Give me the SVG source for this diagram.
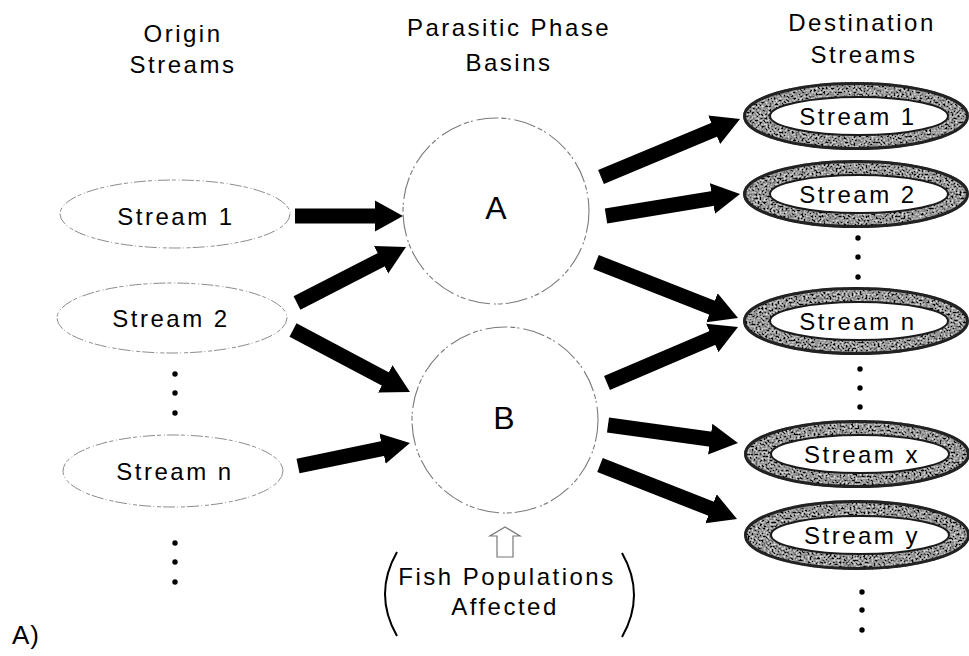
<svg xmlns="http://www.w3.org/2000/svg" width="969" height="656" viewBox="0 0 969 656">
  <style>
    .hdr { font-family: "Liberation Sans", Arial, sans-serif; font-size: 24px; letter-spacing: 2.5px; text-anchor: middle; fill: #000; }
    .lbl { font-family: "Liberation Sans", Arial, sans-serif; font-size: 24px; letter-spacing: 2.5px; text-anchor: middle; fill: #000; }
    .big { font-family: "Liberation Sans", Arial, sans-serif; font-size: 32px; text-anchor: middle; fill: #000; }
    .origin { fill: #fff; stroke: #8c8c8c; stroke-width: 1; stroke-dasharray: 12 2 4 3 1 2; }
    .basin { fill: #fff; stroke: #7a7a7a; stroke-width: 1.1; stroke-dasharray: 22 3 5 2 2 4; }
    .ring { fill: #000; filter: url(#grain); }
    .rim { fill: none; stroke: #222; stroke-width: 3; }
    .hole { fill: #fff; stroke: #1a1a1a; stroke-width: 2; }
    .arrow { stroke: #000; stroke-width: 15; fill: none; stroke-linecap: butt; }
    .dot { fill: #000; }
    .paren { fill: none; stroke: #000; stroke-width: 2; }
  </style>
  <defs>
    <marker id="head" markerUnits="userSpaceOnUse" markerWidth="30" markerHeight="34" viewBox="0 -16 30 32" refX="1" refY="0" orient="auto">
      <path d="M0,-15.5 L28,0 L0,15.5 Z" fill="#000"/>
    </marker>
    <!-- speckled grey fill for the destination rings -->
    <filter id="grain" x="0" y="0" width="1" height="1">
      <feTurbulence type="fractalNoise" baseFrequency="0.5" numOctaves="3" seed="7" result="noise"/>
      <feColorMatrix in="noise" type="matrix" values="1.6 0 0 0 -0.5  1.6 0 0 0 -0.5  1.6 0 0 0 -0.5  0 0 0 0 1" result="gray"/>
      <feComposite in="gray" in2="SourceGraphic" operator="in"/>
    </filter>
  </defs>

  <rect x="0" y="0" width="969" height="656" fill="#fff"/>

  <!-- column headings -->
  <g id="headings">
    <text class="hdr" x="183" y="42">Origin</text>
    <text class="hdr" x="183" y="73">Streams</text>
    <text class="hdr" x="509" y="36">Parasitic Phase</text>
    <text class="hdr" x="509" y="71">Basins</text>
    <text class="hdr" x="862" y="31">Destination</text>
    <text class="hdr" x="864" y="63">Streams</text>
  </g>

  <!-- connectors -->
  <g id="connectors">
    <line class="arrow" x1="295" y1="216" x2="376" y2="216" marker-end="url(#head)"/>
    <line class="arrow" x1="297" y1="303" x2="382" y2="259.3" marker-end="url(#head)"/>
    <line class="arrow" x1="293" y1="330" x2="386.1" y2="379.4" marker-end="url(#head)"/>
    <line class="arrow" x1="298" y1="466" x2="383.5" y2="448.4" marker-end="url(#head)"/>
    <line class="arrow" x1="601" y1="177" x2="715.1" y2="129.4" marker-end="url(#head)"/>
    <line class="arrow" x1="606" y1="216" x2="713.4" y2="198.4" marker-end="url(#head)"/>
    <line class="arrow" x1="596" y1="262" x2="712.9" y2="308.1" marker-end="url(#head)"/>
    <line class="arrow" x1="607" y1="383" x2="713.2" y2="337.6" marker-end="url(#head)"/>
    <line class="arrow" x1="608" y1="425" x2="711.2" y2="439.3" marker-end="url(#head)"/>
    <line class="arrow" x1="600" y1="465" x2="711.9" y2="509.1" marker-end="url(#head)"/>
  </g>

  <!-- origin streams -->
  <g id="origin-1">
    <ellipse class="origin" cx="175" cy="214" rx="115" ry="34"/>
    <text class="lbl" x="176" y="225">Stream 1</text>
  </g>
  <g id="origin-2">
    <ellipse class="origin" cx="172" cy="318" rx="115" ry="35"/>
    <text class="lbl" x="171" y="327">Stream 2</text>
  </g>
  <g id="origin-dots-1">
    <circle class="dot" cx="175" cy="374" r="2.7"/>
    <circle class="dot" cx="175" cy="393" r="2.7"/>
    <circle class="dot" cx="175" cy="413" r="2.7"/>
  </g>
  <g id="origin-n">
    <ellipse class="origin" cx="173" cy="471" rx="110" ry="36"/>
    <text class="lbl" x="175" y="480">Stream n</text>
  </g>
  <g id="origin-dots-2">
    <circle class="dot" cx="175" cy="543" r="2.7"/>
    <circle class="dot" cx="175" cy="562" r="2.7"/>
    <circle class="dot" cx="175" cy="582" r="2.7"/>
  </g>

  <!-- parasitic phase basins -->
  <g id="basin-a">
    <circle class="basin" cx="496" cy="211" r="93"/>
    <text class="big" x="496" y="219">A</text>
  </g>
  <g id="basin-b">
    <circle class="basin" cx="505" cy="420" r="93"/>
    <text class="big" x="504" y="429">B</text>
  </g>

  <!-- fish populations note -->
  <g id="fish-note">
    <path d="M505,527 L520,536 L513,536 L513,557 L497,557 L497,536 L490,536 Z" fill="#fff" stroke="#777" stroke-width="1.2"/>
    <path class="paren" d="M397,552 Q373,594 397,636"/>
    <path class="paren" d="M622,553 Q646,595 622,637"/>
    <text class="lbl" x="507" y="585">Fish Populations</text>
    <text class="lbl" x="505" y="615">Affected</text>
  </g>

  <!-- destination streams -->
  <g id="dest-1">
    <ellipse class="ring" cx="856" cy="116" rx="113" ry="34"/>
    <ellipse class="rim" cx="856" cy="116" rx="111.5" ry="32.5"/>
    <ellipse class="hole" cx="859" cy="116" rx="89" ry="19"/>
    <text class="lbl" x="858" y="125">Stream 1</text>
  </g>
  <g id="dest-2">
    <ellipse class="ring" cx="856" cy="194" rx="113" ry="34"/>
    <ellipse class="rim" cx="856" cy="194" rx="111.5" ry="32.5"/>
    <ellipse class="hole" cx="859" cy="194" rx="89" ry="19"/>
    <text class="lbl" x="858" y="203">Stream 2</text>
  </g>
  <g id="dest-dots-1">
    <circle class="dot" cx="858" cy="238" r="2.7"/>
    <circle class="dot" cx="858" cy="257" r="2.7"/>
    <circle class="dot" cx="858" cy="277" r="2.7"/>
  </g>
  <g id="dest-n">
    <ellipse class="ring" cx="856" cy="321" rx="113" ry="34"/>
    <ellipse class="rim" cx="856" cy="321" rx="111.5" ry="32.5"/>
    <ellipse class="hole" cx="859" cy="321" rx="89" ry="19"/>
    <text class="lbl" x="858" y="330">Stream n</text>
  </g>
  <g id="dest-dots-2">
    <circle class="dot" cx="860" cy="369" r="2.7"/>
    <circle class="dot" cx="860" cy="388" r="2.7"/>
    <circle class="dot" cx="860" cy="407" r="2.7"/>
  </g>
  <g id="dest-x">
    <ellipse class="ring" cx="857" cy="454" rx="113" ry="34"/>
    <ellipse class="rim" cx="857" cy="454" rx="111.5" ry="32.5"/>
    <ellipse class="hole" cx="860" cy="454" rx="89" ry="19"/>
    <text class="lbl" x="862" y="463">Stream x</text>
  </g>
  <g id="dest-y">
    <ellipse class="ring" cx="857" cy="535" rx="113" ry="35"/>
    <ellipse class="rim" cx="857" cy="535" rx="111.5" ry="33.5"/>
    <ellipse class="hole" cx="860" cy="535" rx="89" ry="19"/>
    <text class="lbl" x="862" y="544">Stream y</text>
  </g>
  <g id="dest-dots-3">
    <circle class="dot" cx="862" cy="592" r="2.7"/>
    <circle class="dot" cx="862" cy="610" r="2.7"/>
    <circle class="dot" cx="862" cy="630" r="2.7"/>
  </g>

  <!-- panel tag -->
  <text class="hdr" x="12" y="644" style="text-anchor:start;font-size:26px;letter-spacing:1px">A)</text>
</svg>
